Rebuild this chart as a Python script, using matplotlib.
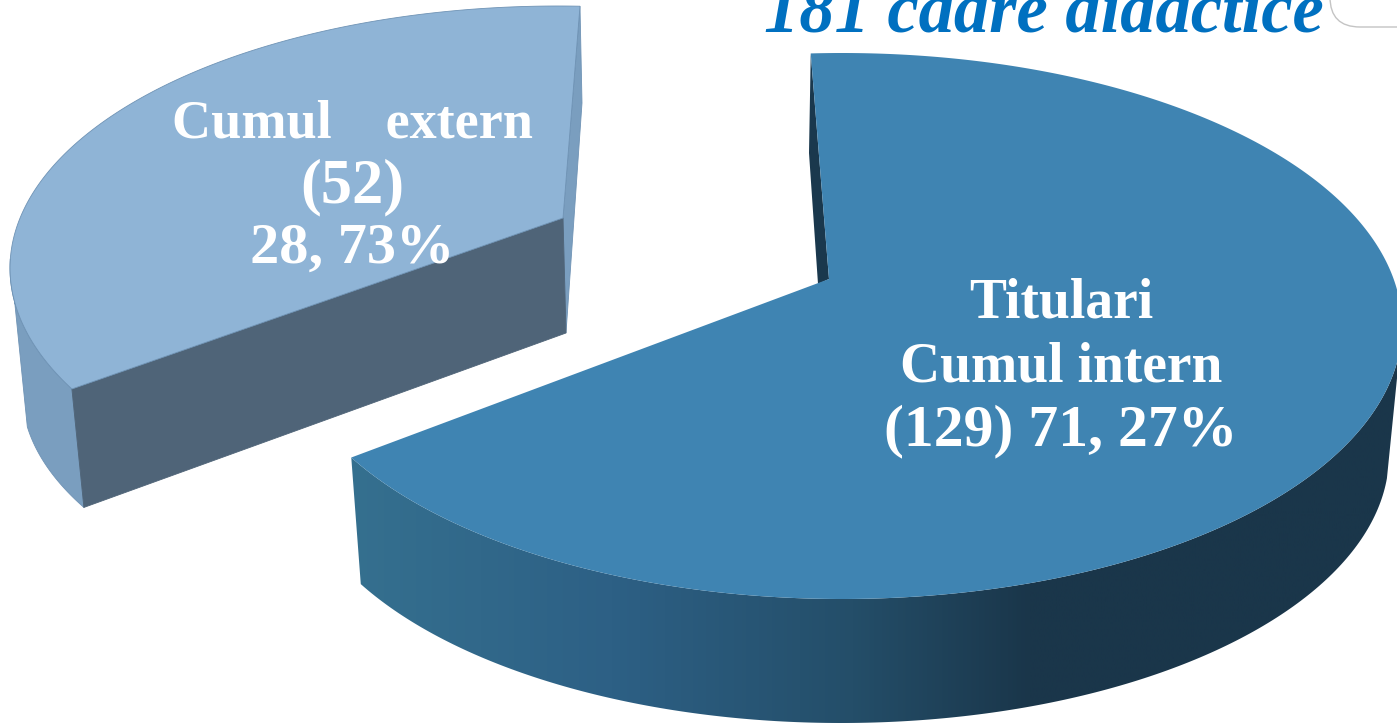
import numpy as np
import matplotlib
matplotlib.use('Agg')
import matplotlib.pyplot as plt
from matplotlib.colors import LinearSegmentedColormap
from matplotlib.patches import FancyBboxPatch, Polygon

# data
title = '181 cadre didactice'
big_label = ['Titulari', 'Cumul intern', '(129) 71, 27%']
small_label = ['Cumul    extern', '(52)', '28, 73%']
# the sectors as they are drawn (degrees), not quite the printed percentages
big_sweep = 244.4
small_sweep = 119.8

W, H = 1397, 724
BIG_START, SMALL_START = -3.2, 242.5

# ellipses in pixels: cx, cy, a, b
big_top = (842, 326, 560, 273)
big_bottom = (841, 455, 548, 268)
small_top = (558, 268, 548, 262)
small_bottom = (570, 392, 548, 250)


def rim(e, t):
    t = np.radians(t)
    return e[0] + e[2] * np.sin(t), e[1] - e[3] * np.cos(t)


def arc(e, t0, t1, n=200):
    x, y = rim(e, np.linspace(t0, t1, n))
    return list(zip(x, y))


fig = plt.figure(figsize=(W / 100, H / 100), dpi=100)
ax = fig.add_axes([0, 0, 1, 1])

# box corner top right
ax.add_patch(FancyBboxPatch((1330, -60), 120, 87, boxstyle='round,pad=0,rounding_size=30',
                            fc='white', ec='#c4c4c4', lw=1, zorder=1))

# --- small slice ---
s_end = SMALL_START + small_sweep
s_apex = (563, 218)
corner = rim(small_top, SMALL_START)
corner_b = rim(small_bottom, SMALL_START)
side_b = (566, 333)
start_t = rim(small_top, s_end)

# strip on the right
ax.fill(*zip(start_t, (582, 103), side_b, s_apex), color='#7a9ebf', ec='#6f93b5', lw=0.6, zorder=2)
# outer side
pts = arc(small_top, SMALL_START, 272) + arc(small_bottom, 262, SMALL_START)
ax.fill(*zip(*pts), color='#7a9ebf', ec='#6f93b5', lw=0.6, zorder=2)
# cut face
ax.fill(*zip(corner, s_apex, side_b, corner_b), color='#4f6478', ec='#4f6478', lw=0.6, zorder=3)
# top
pts = arc(small_top, SMALL_START, s_end) + [s_apex]
ax.fill(*zip(*pts), color='#8fb4d6', ec='#6f93b5', lw=0.6, zorder=4)

# --- big slice ---
b_end = BIG_START + big_sweep
b_apex = (829, 279)
top_pt = rim(big_top, BIG_START)
ax.fill(*zip(top_pt, (809, 153), (818, 284), b_apex), color='#1a384d', lw=0, zorder=2)

# side: horizontal gradient clipped to the rim band
cmap = LinearSegmentedColormap.from_list('side', [(0, '#35708f'), (0.25, '#2d6085'), (0.48, '#244e69'),
                                                  (0.65, '#1a364a'), (1, '#1a364a')])
band = Polygon(arc(big_top, 95, b_end) + arc(big_bottom, b_end, 95), closed=True, transform=ax.transData, fc='none', lw=0)
ax.add_patch(band)
grad = ax.imshow(np.linspace(0, 1, 512)[None, :], extent=(350, W, H, 300), cmap=cmap, aspect='auto', zorder=3)
grad.set_clip_path(band)

pts = arc(big_top, BIG_START, b_end, 400) + [b_apex]
ax.fill(*zip(*pts), color='#3f84b2', lw=0, zorder=4)

ax.set_xlim(0, W)
ax.set_ylim(H, 0)
ax.axis('off')

# --- text ---
serif = 'Liberation Serif'
ax.text(1044, 32, title, color='#0070c0', fontsize=50.8, family=serif, weight='bold', style='italic',
        ha='center', va='baseline', zorder=5)
for txt, y, size in zip(big_label, [318, 381, 445], [40, 40, 43]):
    ax.text(1061, y, txt, color='white', fontsize=size, family=serif, weight='bold', ha='center', va='baseline', zorder=5)
for txt, y, size in zip(small_label, [138, 202, 263], [39, 45, 42]):
    ax.text(352, y, txt, color='white', fontsize=size, family=serif, weight='bold', ha='center', va='baseline', zorder=5)

fig.savefig('out.png', dpi=100)
